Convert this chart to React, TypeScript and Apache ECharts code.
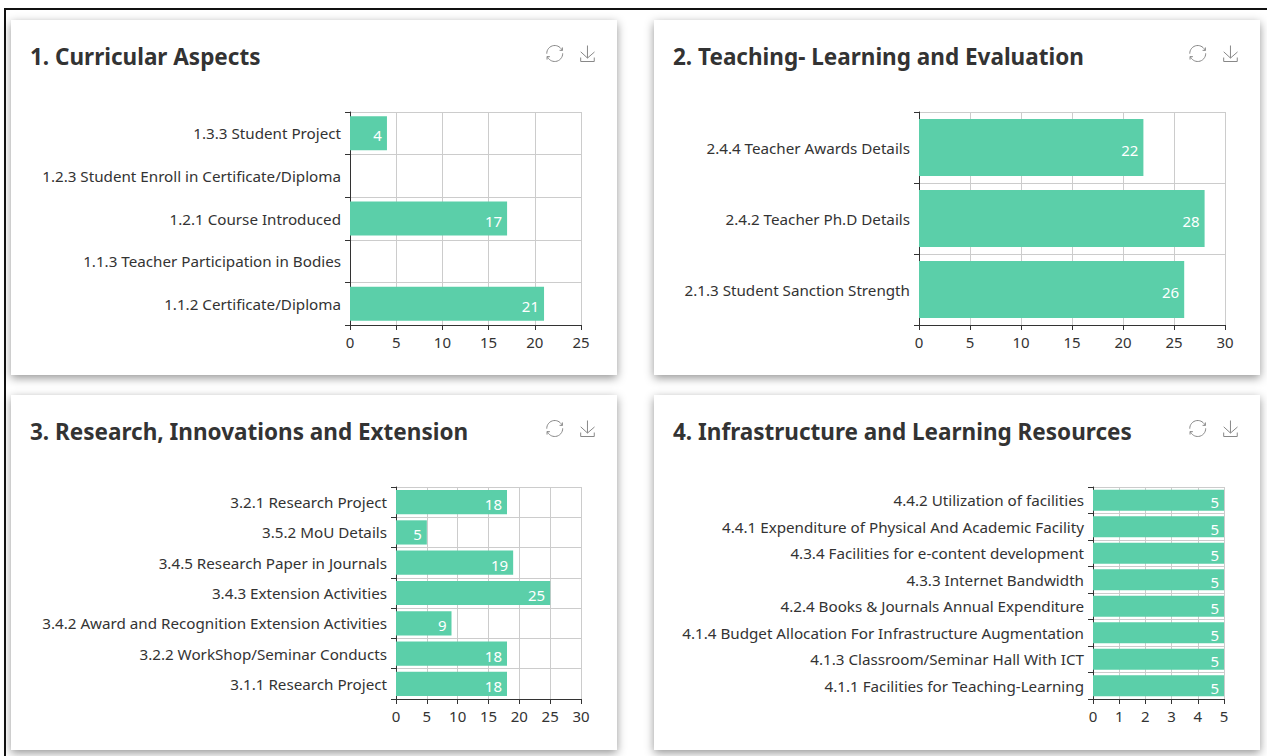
import React, { useEffect, useRef } from "react";
import * as echarts from "echarts";

const cats1 = ["1.1.2 Certificate/Diploma", "1.1.3 Teacher Participation in Bodies", "1.2.1 Course Introduced", "1.2.3 Student Enroll in Certificate/Diploma", "1.3.3 Student Project"];
const vals1 = [21, null, 17, null, 4];
const cats2 = ["2.1.3 Student Sanction Strength", "2.4.2 Teacher Ph.D Details", "2.4.4 Teacher Awards Details"];
const vals2 = [26, 28, 22];
const cats3 = ["3.1.1 Research Project", "3.2.2 WorkShop/Seminar Conducts", "3.4.2 Award and Recognition Extension Activities", "3.4.3 Extension Activities", "3.4.5 Research Paper in Journals", "3.5.2 MoU Details", "3.2.1 Research Project"];
const vals3 = [18, 18, 9, 25, 19, 5, 18];
const cats4 = ["4.1.1 Facilities for Teaching-Learning", "4.1.3 Classroom/Seminar Hall With ICT", "4.1.4 Budget Allocation For Infrastructure Augmentation", "4.2.4 Books & Journals Annual Expenditure", "4.3.3 Internet Bandwidth", "4.3.4 Facilities for e-content development", "4.4.1 Expenditure of Physical And Academic Facility", "4.4.2 Utilization of facilities"];
const vals4 = [5, 5, 5, 5, 5, 5, 5, 5];

const FONT = "'Noto Sans', 'Open Sans', sans-serif";
const CARD_W = 606;
const CARD_H = 355;

const panels = [
  { title: "1. Curricular Aspects", cats: cats1, vals: vals1, max: 25, interval: 5, left: 11, top: 20, grid: { left: 339, right: 36, top: 92, bottom: 50 } },
  { title: "2. Teaching- Learning and Evaluation", cats: cats2, vals: vals2, max: 30, interval: 5, left: 654, top: 20, grid: { left: 265, right: 35, top: 92, bottom: 50 } },
  { title: "3. Research, Innovations and Extension", cats: cats3, vals: vals3, max: 30, interval: 5, left: 11, top: 395, grid: { left: 385, right: 36, top: 92, bottom: 51 } },
  { title: "4. Infrastructure and Learning Resources", cats: cats4, vals: vals4, max: 5, interval: 1, left: 654, top: 395, grid: { left: 439, right: 36, top: 92, bottom: 51 } },
];

function Panel({ p }: { p: (typeof panels)[number] }) {
  const ref = useRef<HTMLDivElement>(null);
  useEffect(() => {
    const chart = echarts.init(ref.current!, null, { renderer: "svg" });
    chart.setOption({
      animation: false,
      textStyle: { fontFamily: FONT },
      title: { text: p.title, left: 14, top: 20, textStyle: { fontSize: 22.5, fontWeight: "bold", color: "#333", fontFamily: FONT } },
      toolbox: {
        right: 5,
        top: 8,
        itemSize: 16,
        itemGap: 13,
        iconStyle: { borderColor: "#888" },
        feature: { restore: { show: true }, saveAsImage: { show: true } },
      },
      grid: { ...p.grid, containLabel: false },
      xAxis: {
        type: "value",
        min: 0,
        max: p.max,
        interval: p.interval,
        axisLine: { show: true, lineStyle: { color: "#333" } },
        axisTick: { show: true, length: 5, lineStyle: { color: "#333" } },
        axisLabel: { color: "#333", fontSize: 15, margin: 9, fontFamily: FONT },
        splitLine: { show: true, lineStyle: { color: "#ccc" } },
      },
      yAxis: {
        type: "category",
        data: p.cats,
        axisLine: { show: true, lineStyle: { color: "#333" } },
        axisTick: { show: true, length: 5, alignWithLabel: false, lineStyle: { color: "#333" } },
        axisLabel: { color: "#333", fontSize: 15.2, margin: 9, interval: 0, fontFamily: FONT },
        splitLine: { show: true, lineStyle: { color: "#ccc" } },
      },
      series: [
        {
          type: "bar",
          data: p.vals,
          barCategoryGap: "20%",
          itemStyle: { color: "#5bcfa9" },
          label: { show: true, position: "insideRight", color: "#fff", fontSize: 15, fontFamily: FONT, offset: [0, 2] },
        },
      ],
    });
    return () => chart.dispose();
  }, [p]);
  return (
    <div
      ref={ref}
      style={{
        position: "absolute",
        left: p.left,
        top: p.top,
        width: CARD_W,
        height: CARD_H,
        background: "#fff",
        boxShadow: "0 3px 9px rgba(0,0,0,0.42)",
      }}
    />
  );
}

export default function App() {
  return (
    <div style={{ position: "fixed", left: 0, top: 0, width: 1267, height: 756, background: "#fff", overflow: "hidden" }}>
      <div style={{ position: "absolute", left: 4, top: 8, right: -5, bottom: -5, borderTop: "2px solid #111", borderLeft: "2px solid #111" }} />
      {panels.map((p) => (
        <Panel key={p.title} p={p} />
      ))}
    </div>
  );
}
